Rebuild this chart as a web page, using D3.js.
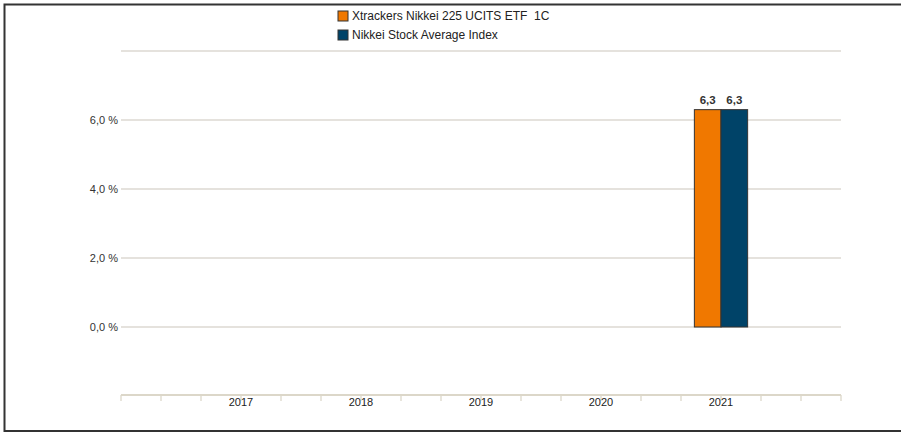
<!DOCTYPE html>
<html>
<head>
<meta charset="utf-8">
<script src="https://cdn.jsdelivr.net/npm/d3@7"></script>
<style>
  body { margin: 0; background: #fff; }
  svg { display: block; font-family: "Liberation Sans", Arial, sans-serif; }
</style>
</head>
<body>
<svg width="901" height="433"></svg>
<script>
// data
const years = [2017, 2018, 2019, 2020, 2021];
const seriesNames = ['Xtrackers Nikkei 225 UCITS ETF  1C', 'Nikkei Stock Average Index'];
const seriesColors = ['#f07800', '#004368'];
const etfValues = [null, null, null, null, 6.3];
const indexValues = [null, null, null, null, 6.3];
const yTicks = [0, 2, 4, 6];
const yGrid = [-2, 0, 2, 4, 6, 8];

const svg = d3.select('svg');

// frame (left, top, bottom)
svg.append('path')
  .attr('d', 'M901,4.5 H4.5 V431 H901')
  .attr('fill', 'none')
  .attr('stroke', '#333')
  .attr('stroke-width', 2);

const x = d3.scaleLinear().domain([2016, 2022]).range([121, 841]);
const y = d3.scaleLinear().domain([-2, 8]).range([396, 51]);

// gridlines
svg.append('g')
  .selectAll('line')
  .data(yGrid.filter(v => v > -2))
  .enter()
  .append('line')
  .attr('x1', x(2016)).attr('x2', x(2022))
  .attr('y1', d => y(d)).attr('y2', d => y(d))
  .attr('stroke', '#dcd9d2')
  .attr('stroke-width', 1.3);

// y labels
svg.append('g')
  .selectAll('text')
  .data(yTicks)
  .enter()
  .append('text')
  .attr('x', 118)
  .attr('y', d => y(d))
  .attr('dy', '0.35em')
  .attr('text-anchor', 'end')
  .attr('font-size', 11)
  .attr('fill', '#333')
  .text(d => d3.format('.1f')(d).replace('.', ',') + ' %');

// x axis
const minorTicks = d3.range(0, 19).map(i => 2016 + i / 3);
const xAxis = svg.append('g').attr('transform', `translate(0,${y(-2) - 1})`);
xAxis.append('line')
  .attr('x1', x(2016)).attr('x2', x(2022))
  .attr('stroke', '#dcd7c9')
  .attr('stroke-width', 2);
xAxis.selectAll('line.tick')
  .data(minorTicks)
  .enter()
  .append('line')
  .attr('class', 'tick')
  .attr('x1', d => x(d)).attr('x2', d => x(d))
  .attr('y1', 0).attr('y2', 6)
  .attr('stroke', '#dcd7c9')
  .attr('stroke-width', 1.3);
xAxis.selectAll('text')
  .data(years)
  .enter()
  .append('text')
  .attr('x', d => x(d))
  .attr('y', 3)
  .attr('dy', '0.71em')
  .attr('text-anchor', 'middle')
  .attr('font-size', 11)
  .attr('fill', '#222')
  .text(d => d);

// bars
const barW = x(2016.222) - x(2016);
const series = [etfValues, indexValues];
series.forEach((vals, si) => {
  const pts = years.map((yr, i) => ({ yr, v: vals[i] })).filter(d => d.v !== null);
  const g = svg.append('g');
  g.selectAll('rect')
    .data(pts)
    .enter()
    .append('rect')
    .attr('x', d => x(d.yr) + (si - 1) * barW)
    .attr('y', d => y(Math.max(0, d.v)))
    .attr('width', barW)
    .attr('height', d => Math.abs(y(d.v) - y(0)))
    .attr('fill', seriesColors[si])
    .attr('stroke', '#333')
    .attr('stroke-width', 1);
  g.selectAll('text')
    .data(pts)
    .enter()
    .append('text')
    .attr('x', d => x(d.yr) + (si - 0.5) * barW)
    .attr('y', d => y(d.v) - 6)
    .attr('text-anchor', 'middle')
    .attr('font-size', 11.5)
    .attr('font-weight', 'bold')
    .attr('fill', '#333')
    .text(d => String(d.v).replace('.', ','));
});

// legend
const legend = svg.append('g');
seriesNames.forEach((name, i) => {
  legend.append('rect')
    .attr('x', 338).attr('y', 11 + i * 19)
    .attr('width', 10).attr('height', 10)
    .attr('fill', seriesColors[i])
    .attr('stroke', '#333')
    .attr('stroke-width', 1);
  legend.append('text')
    .attr('x', 352).attr('y', 16 + i * 19)
    .attr('dy', '0.35em')
    .attr('font-size', 12)
    .attr('fill', '#222')
    .style('white-space', 'pre')
    .text(name);
});
</script>
</body>
</html>
